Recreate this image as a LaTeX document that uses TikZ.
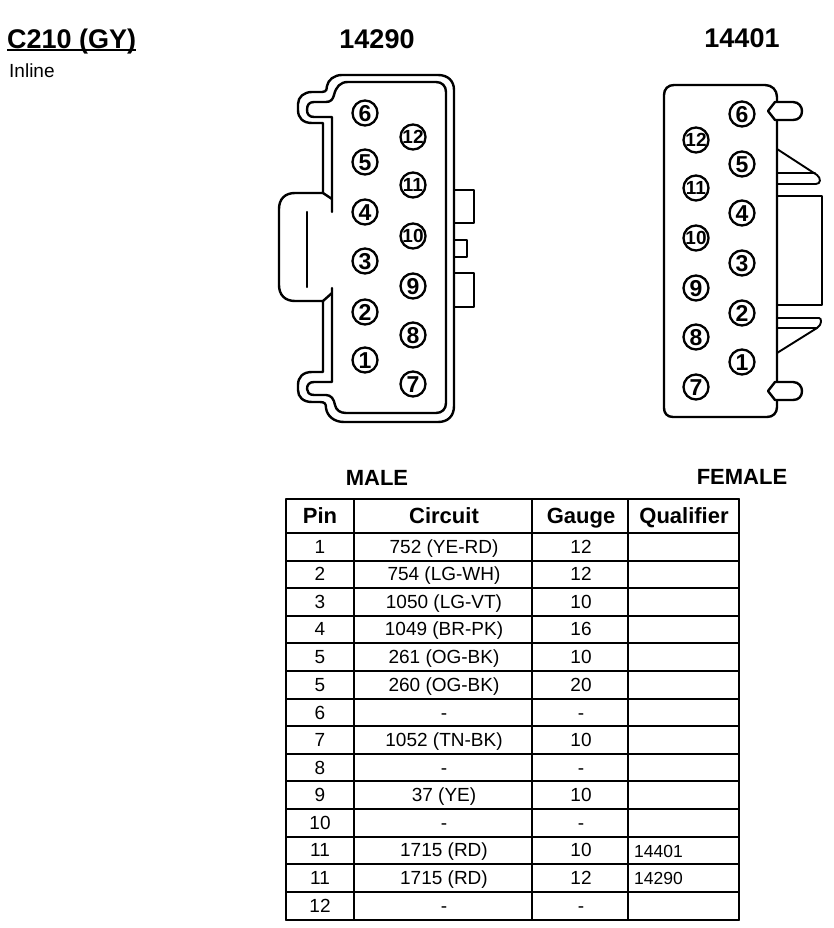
\documentclass[tikz,border=0pt]{standalone}
\usepackage{fontspec}
\setmainfont{Liberation Sans}
\begin{document}
\begin{tikzpicture}[x=1pt,y=-1pt,line join=round,line cap=round]
  % Styles
  \tikzstyle{outline}=[line width=2.4pt]
  \tikzstyle{thin outline}=[line width=1.9pt]
  \tikzstyle{cavity}=[circle,draw,line width=2.3pt,minimum size=25pt,inner sep=0pt,
    text height=16.5pt,text depth=0pt,font=\fontsize{23}{23}\selectfont\bfseries]
  \tikzstyle{cavity two}=[cavity,text height=13.6pt,font=\fontsize{19}{19}\selectfont\bfseries]
  \tikzstyle{big title}=[inner sep=0pt,text height=19.3pt,text depth=0pt,
    font=\fontsize{27}{27}\selectfont\bfseries]
  \tikzstyle{gender title}=[inner sep=0pt,text height=15.8pt,text depth=0pt,
    font=\fontsize{22}{22}\selectfont\bfseries]
  \tikzstyle{table head}=[inner sep=0pt,text height=15.8pt,text depth=0pt,
    font=\fontsize{22}{22}\selectfont\bfseries]
  \tikzstyle{table text}=[inner sep=0pt,text height=13.6pt,text depth=0pt,
    font=\fontsize{19}{19}\selectfont]
  \tikzstyle{qualifier text}=[inner sep=0pt,anchor=west,text height=12.5pt,text depth=0pt,
    font=\fontsize{17.5}{17.5}\selectfont]
  \tikzstyle{table line}=[line width=1.9pt]

  \useasboundingbox (0,0) rectangle (834,928);

  % Titles
  \node[big title,anchor=west] (title) at (7,38.5) {C210 (GY)};
  \draw[line width=2pt,line cap=butt] ([yshift=-1.5pt]title.base west) -- ([yshift=-1.5pt]title.base east);
  \node[inner sep=0pt,anchor=west,text height=13.6pt,text depth=0pt,
    font=\fontsize{19}{19}\selectfont] (inline) at (9,71) {Inline};
  \node[big title] (partmale) at (377,39) {14290};
  \node[big title] (partfemale) at (742,38) {14401};
  \node[gender title] (male) at (377,478) {MALE};
  \node[gender title] (female) at (742,477) {FEMALE};

  % The male connector
  \draw[outline] (323,193) -- (323,123) -- (312,123) .. controls (303,123) and (298,118) .. (298,110)
    -- (298,104) .. controls (298,97) and (304,92) .. (312,92) -- (322,92)
    .. controls (327,92) and (327,88) .. (327,86) .. controls (328,80) and (334,75) .. (342,75)
    -- (438,75) .. controls (448,75) and (454,81) .. (454,90) -- (454,406)
    .. controls (454,416) and (448,422) .. (438,422) -- (344,422)
    .. controls (334,422) and (327,416) .. (326,408) .. controls (326,404) and (325,402) .. (320,402)
    -- (312,402) .. controls (303,402) and (298,397) .. (298,390) -- (298,385)
    .. controls (298,377) and (303,372) .. (312,372) -- (323,372) -- (323,301) -- (295,301)
    .. controls (285,301) and (279,295) .. (279,285) -- (279,209)
    .. controls (279,199) and (285,193) .. (295,193) -- cycle;
  \draw[outline] (332,212) -- (332,117) -- (314,117) .. controls (309,117) and (307,114) .. (307,110)
    .. controls (307,105) and (309,102) .. (314,102) -- (326,102)
    .. controls (331,102) and (333,99) .. (334,95) .. controls (336,87) and (340,82) .. (348,82)
    -- (436,82) .. controls (442,82) and (446,86) .. (446,92) -- (446,403)
    .. controls (446,409) and (442,413) .. (436,413) -- (346,413)
    .. controls (340,413) and (336,410) .. (335,405) .. controls (334,399) and (331,395) .. (326,395)
    -- (314,395) .. controls (309,395) and (307,392) .. (307,389)
    .. controls (307,385) and (309,382) .. (314,382) -- (332,382) -- (332,288);
  \draw[outline] (323,193) -- (332,199);
  \draw[outline] (323,301) -- (332,293);
  \draw[outline] (307,212) -- (307,287);
  \foreach \ya/\yb/\xb in {190/223/474, 240/257/467, 273/307/474}
    \draw[thin outline] (454,\ya) -- (\xb,\ya) -- (\xb,\yb) -- (454,\yb);

  \foreach \n/\x/\y in {6/365/113, 5/365/162, 4/365/212, 3/365/261, 2/365/312, 1/365/360,
      9/413/286, 8/413/335, 7/413/384}
    \node[cavity] (male\n) at (\x,\y) {\n};
  \foreach \n/\x/\y in {12/413/137, 11/413/185, 10/413/236}
    \node[cavity two] (male\n) at (\x,\y) {\n};

  % The female connector
  \draw[outline] (674,85) -- (765,85) .. controls (772,85) and (777,90) .. (777,97) -- (777,407)
    .. controls (777,413) and (773,417) .. (767,417) -- (673,417)
    .. controls (667,417) and (664,413) .. (664,408) -- (664,95)
    .. controls (664,89) and (668,85) .. (674,85) -- cycle;
  \foreach \y in {111,391}
    \draw[outline,fill=white] (768,\y) -- (775,\y-9) -- (793,\y-9) .. controls (799,\y-9) and (802,\y-4) .. (802,\y)
      .. controls (802,\y+5) and (799,\y+9) .. (793,\y+9) -- (775,\y+9) -- cycle;
  \draw[thin outline] (777,149) -- (817,175) .. controls (821,178) and (821,184) .. (816,184) -- (777,184);
  \draw[thin outline] (777,173) -- (815,173);
  \draw[thin outline] (778,196) -- (822,196) -- (822,305) -- (778,305);
  \draw[thin outline] (777,318) -- (819,318) .. controls (822,318) and (822,325) .. (817,328) -- (777,353);
  \draw[thin outline] (777,328) -- (817,328);

  \foreach \n/\x/\y in {6/742/114, 5/742/164, 4/742/213, 3/742/263, 2/742/313, 1/742/362,
      9/696/288, 8/696/337, 7/696/387}
    \node[cavity] (female\n) at (\x,\y) {\n};
  \foreach \n/\x/\y in {12/696/140, 11/696/188, 10/696/238}
    \node[cavity two] (female\n) at (\x,\y) {\n};

  % The table
  \foreach \y in {499,533,561,588,616,643,671,699,726,754,781,809,837,864,892,920}
    \draw[table line] (286,\y) -- (739,\y);
  \foreach \x in {286,354,532,628,739}
    \draw[table line] (\x,499) -- (\x,920);
  \draw[line width=2.6pt] (286,837) rectangle (739,864);

  \node[table head] (headpin) at (320,516) {Pin};
  \node[table head] (headcircuit) at (444,516) {Circuit};
  \node[table head] (headgauge) at (581,516) {Gauge};
  \node[table head] (headqualifier) at (684,516) {Qualifier};

  \foreach \r/\y/\p/\c/\g in {a/547/1/752 (YE-RD)/12, b/574/2/754 (LG-WH)/12, c/602/3/1050 (LG-VT)/10,
      d/629/4/1049 (BR-PK)/16, e/657/5/261 (OG-BK)/10, f/685/5/260 (OG-BK)/20, g/713/6/-/-,
      h/740/7/1052 (TN-BK)/10, i/768/8/-/-, j/795/9/37 (YE)/10, k/823/10/-/-,
      l/850/11/1715 (RD)/10, m/878/11/1715 (RD)/12, n/906/12/-/-}
    {
      \node[table text] (pin\r) at (320,\y) {\p};
      \node[table text] (circuit\r) at (444,\y) {\c};
      \node[table text] (gauge\r) at (581,\y) {\g};
    }
  \node[qualifier text] (qualifierl) at (634,851) {14401};
  \node[qualifier text] (qualifierm) at (634,878) {14290};
\end{tikzpicture}
\end{document}
